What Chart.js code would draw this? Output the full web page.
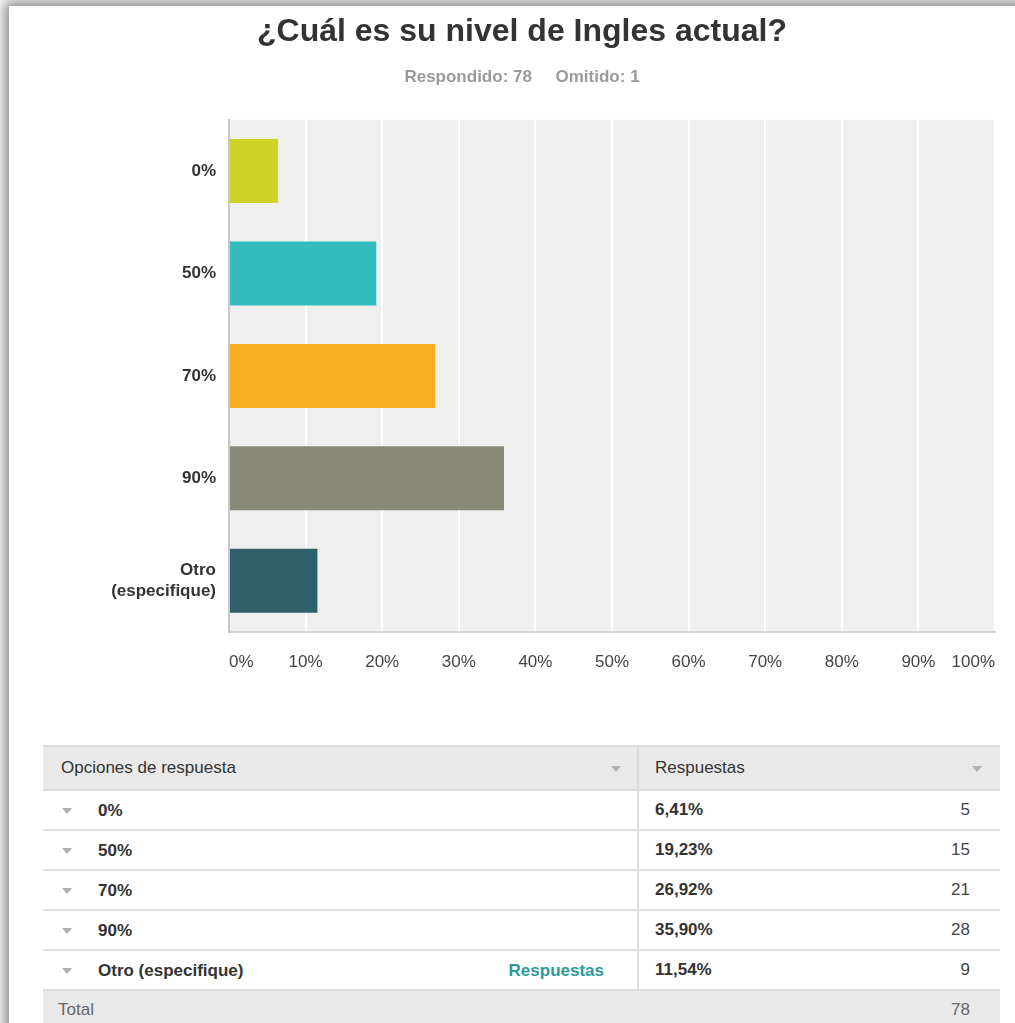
<!DOCTYPE html>
<html>
<head>
<meta charset="utf-8">
<script src="https://cdn.jsdelivr.net/npm/chart.js@4"></script>
<style>
  html, body { margin: 0; padding: 0; width: 1015px; height: 1023px; overflow: hidden; background: #fff; }
  body { position: relative; font-family: Arial, "Liberation Sans", sans-serif; }
  .frame { position: absolute; left: 9px; top: 6px; width: 1200px; height: 1200px; background: #fff;
           box-shadow: 0 0 12px 5px rgba(0,0,0,0.45); }
  #chartBox { position: absolute; left: 45px; top: 0; width: 970px; height: 680px; }
  table.resp { position: absolute; left: 43px; top: 745px; width: 957px; border-collapse: collapse;
               table-layout: fixed; font-size: 17px; color: #333; }
  table.resp td { height: 38px; padding: 0; border-top: 2px solid #dcdcdc; vertical-align: middle; white-space: nowrap; }
  table.resp tr.head td { height: 42px; background: #e9e9e9; border-top: 2px solid #dcdcdc; }
  table.resp tr.total td { background: #e9e9e9; color: #666; }
  td.c1 { position: relative; }
  td.c2 { border-left: 2px solid #dcdcdc; padding-left: 16px !important; font-weight: bold; }
  td.c3 { text-align: right; padding-right: 30px !important; color: #444; }
  .tri { display: inline-block; width: 0; height: 0; border-left: 5px solid transparent; border-right: 5px solid transparent;
         border-top: 6px solid #b0b0b0; vertical-align: middle; }
  .rowtri { position: absolute; left: 19px; top: 17px; }
  .lbl { position: absolute; left: 55px; top: 10px; font-weight: bold; }
  .link { position: absolute; right: 33px; top: 10px; font-weight: bold; color: #2b9a9b; }
  .headtxt { position: absolute; left: 18px; top: 11px; }
  .headtri { position: absolute; right: 16px; top: 19px; }
</style>
</head>
<body>
<div class="frame"></div>
<div id="chartBox"><canvas id="nivelChart"></canvas></div>
<table class="resp" id="respTable">
  <colgroup><col style="width:595px"><col style="width:165px"><col style="width:197px"></colgroup>
</table>

<script>
const categories = ['0%', '50%', '70%', '90%', 'Otro (especifique)'];
const axisLabels = [['0%'], ['50%'], ['70%'], ['90%'], ['Otro', '(especifique)']];
const percentages = [6.41, 19.23, 26.92, 35.90, 11.54];
const counts = [5, 15, 21, 28, 9];
const barColors = ['#cdd426', '#33bdbe', '#f5af1f', '#888977', '#2e5f6b'];
const answered = 78;
const skipped = 1;

// grey plot background behind the grid
const plotBackground = {
  id: 'plotBackground',
  beforeDraw(chart) {
    const { ctx, chartArea } = chart;
    ctx.save();
    ctx.fillStyle = '#efefef';
    ctx.fillRect(chartArea.left, chartArea.top, chartArea.right - chartArea.left, chartArea.bottom - chartArea.top);
    ctx.restore();
  }
};

Chart.defaults.font.family = 'Arial, "Liberation Sans", sans-serif';

new Chart(document.getElementById('nivelChart').getContext('2d'), {
  type: 'bar',
  data: {
    labels: axisLabels,
    datasets: [{
      data: percentages,
      backgroundColor: barColors,
      borderWidth: 0,
      barPercentage: 0.625,
      categoryPercentage: 1.0,
    }],
  },
  options: {
    indexAxis: 'y',
    responsive: true,
    maintainAspectRatio: false,
    animation: false,
    layout: { padding: { left: 0, right: 16, top: 0, bottom: 0 } },
    plugins: {
      legend: { display: false },
      tooltip: { enabled: false },
      title: {
        display: true,
        text: '¿Cuál es su nivel de Ingles actual?',
        color: '#333',
        font: { size: 32, weight: 'bold' },
        padding: { top: 13, bottom: 16 },
      },
      subtitle: {
        display: true,
        text: 'Respondido: ' + answered + '     Omitido: ' + skipped,
        color: '#9a9a9a',
        font: { size: 17, weight: 'bold' },
        padding: { top: 0, bottom: 32 },
      },
    },
    scales: {
      x: {
        min: 0,
        max: 100,
        ticks: {
          stepSize: 10,
          align: 'inner',
          padding: 20,
          color: '#444',
          font: { size: 17 },
          callback: (v) => v + '%',
        },
        grid: { color: '#ffffff', lineWidth: 2, drawTicks: false },
        border: { display: true, color: '#d4d4d4', width: 2 },
        afterFit: (scale) => { scale.height = 48; },
      },
      y: {
        ticks: {
          padding: 13,
          color: '#333',
          font: { size: 17, weight: 'bold' },
        },
        grid: { display: false, drawTicks: false },
        border: { display: true, color: '#c8c8c8', width: 2 },
        afterFit: (scale) => { scale.width = 184; },
      },
    },
  },
  plugins: [plotBackground],
});

// summary table under the chart
const table = document.getElementById('respTable');
const fmt = (v) => v.toFixed(2).replace('.', ',') + '%';
let html = '<tr class="head"><td class="c1"><span class="headtxt">Opciones de respuesta</span><span class="tri headtri"></span></td>' +
  '<td class="c2" colspan="2" style="font-weight:normal;position:relative"><span>Respuestas</span><span class="tri headtri" style="right:18px"></span></td></tr>';
categories.forEach((cat, i) => {
  const link = cat.startsWith('Otro') ? '<span class="link">Respuestas</span>' : '';
  html += '<tr><td class="c1"><span class="tri rowtri"></span><span class="lbl">' + cat + '</span>' + link + '</td>' +
    '<td class="c2">' + fmt(percentages[i]) + '</td><td class="c3">' + counts[i] + '</td></tr>';
});
html += '<tr class="total"><td class="c1"><span class="headtxt" style="left:15px;top:9px">Total</span></td><td></td><td class="c3" style="color:#666">' + answered + '</td></tr>';
table.insertAdjacentHTML('beforeend', html);
</script>
</body>
</html>
